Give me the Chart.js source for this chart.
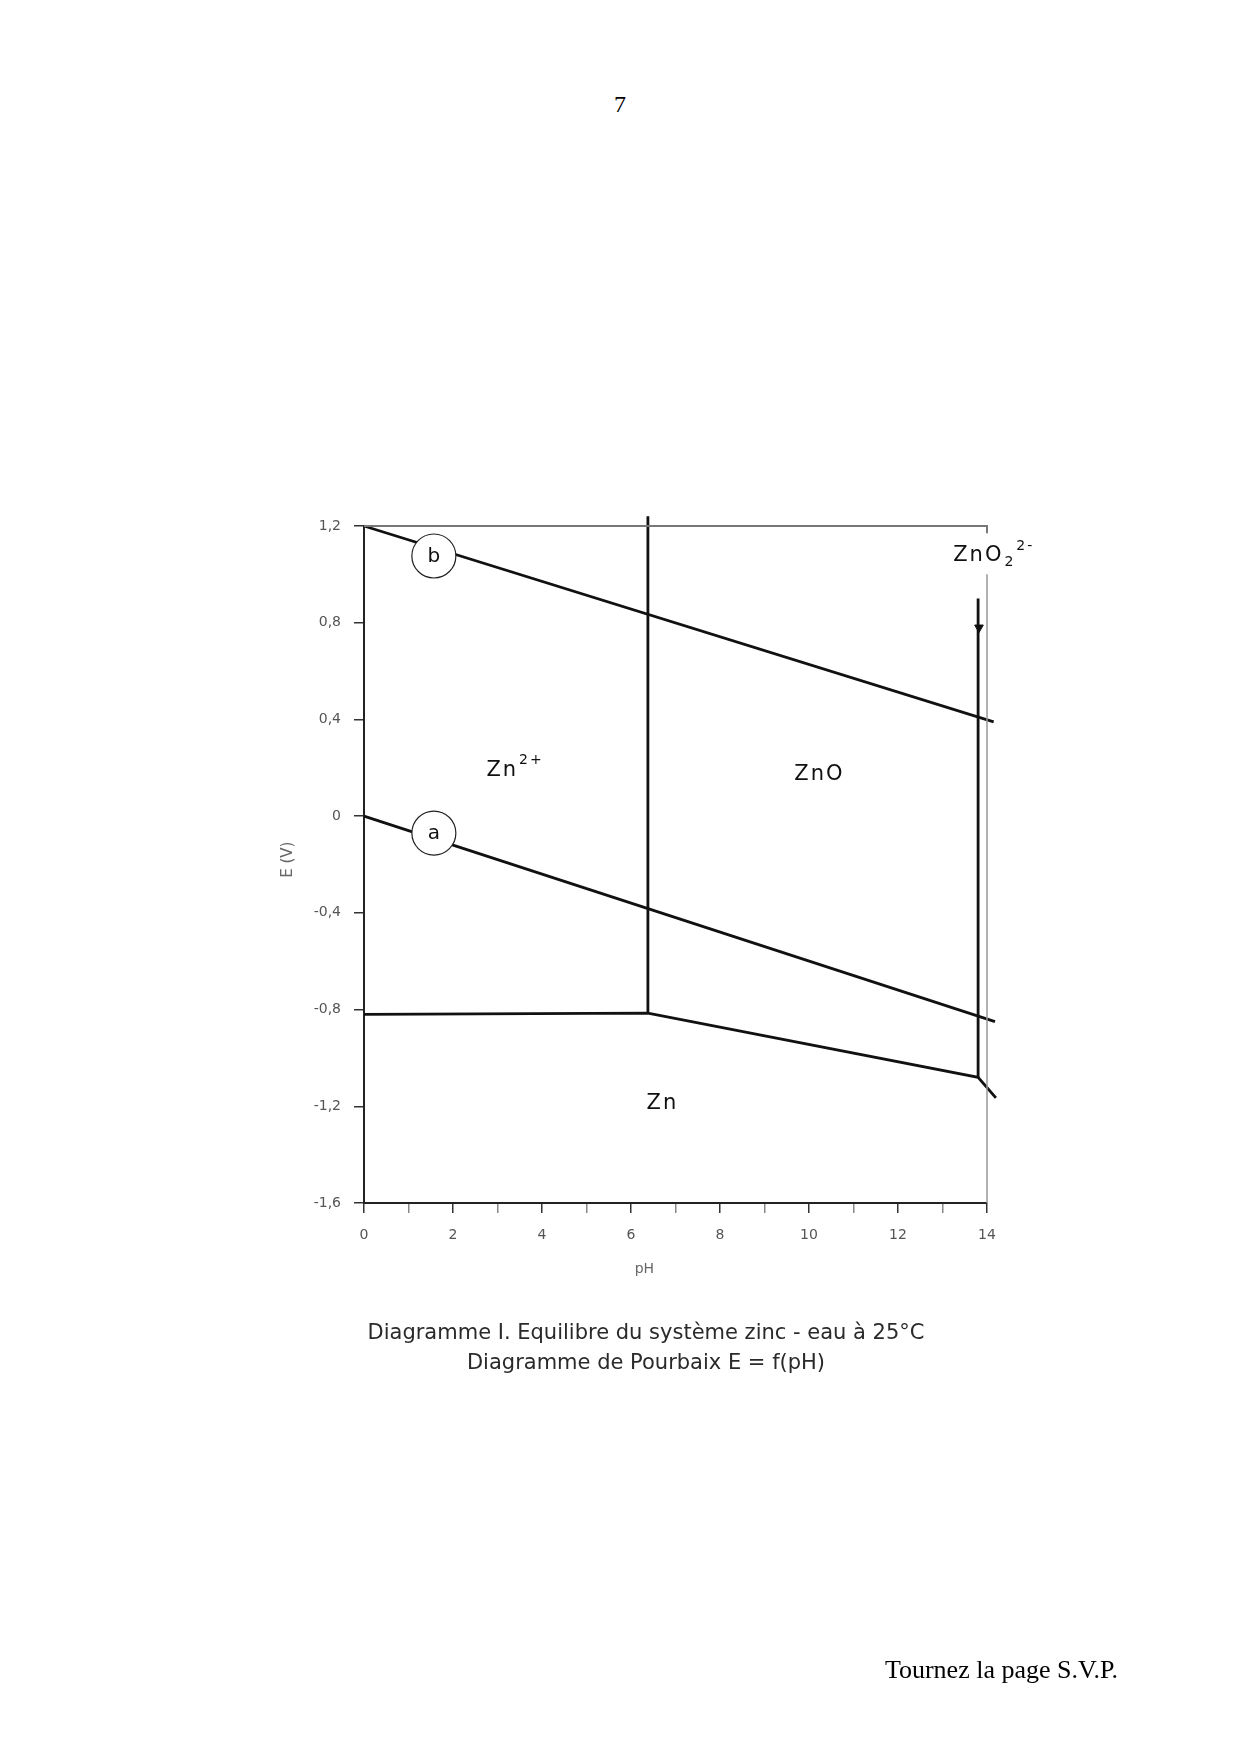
<!DOCTYPE html>
<html>
<head>
<meta charset="utf-8">
<title>Diagramme de Pourbaix - zinc</title>
<script src="https://cdn.jsdelivr.net/npm/chart.js"></script>
<style>
  body { margin: 0; width: 1240px; height: 1754px; background: #fff; position: relative; overflow: hidden; }
  #pourbaix { position: absolute; left: 0; top: 0; }
  .txt { position: absolute; white-space: nowrap; }
  .serif { font-family: "Liberation Serif", "Times New Roman", serif; font-size: 24px; color: #000; }
  .legende { font-family: "DejaVu Sans", sans-serif; font-size: 21px; color: #2a2a2a; left: 0; width: 1292px; text-align: center; }
</style>
</head>
<body>
<div class="txt serif" style="left:0; width:1240px; text-align:center; top:91px;">7</div>
<canvas id="pourbaix" width="1240" height="1754"></canvas>
<div class="txt legende" style="top:1320px;">Diagramme I. Equilibre du système zinc - eau à 25°C</div>
<div class="txt legende" style="top:1350px;">Diagramme de Pourbaix E = f(pH)</div>
<div class="txt serif" style="right:122px; top:1655px; font-size:26px;">Tournez la page S.V.P.</div>

<script>
// droites de l'eau (pH, E en V)
const pHb = [0, 14.15];
const Eb = [1.2, 0.39];
const pHa = [0, 14.18];
const Ea = [0, -0.85];

// frontieres du zinc
const pHZn = [0, 6.38, 13.8, 14.2];
const EZn = [-0.82, -0.815, -1.08, -1.165];
const pHZnO = [6.38, 6.38];
const EZnO = [1.24, -0.815];
const pHZnO2 = [13.8, 13.8];
const EZnO2 = [0.9, -1.08];

// cadre (haut et droite)
const pHcadre = [0, 14, 14];
const Ecadre = [1.2, 1.2, 1.17];
const pHdroit = [14, 14];
const Edroit = [1.0, -1.6];

// petite fleche sur la frontiere ZnO / ZnO2 2-
const pHfleche = [13.82];
const Efleche = [0.78];

// cercles a et b
const cercleNoms = ['b', 'a'];
const pHcercle = [1.57, 1.57];
const Ecercle = [1.076, -0.07];

const xTickLabels = ['0', '', '2', '', '4', '', '6', '', '8', '', '10', '', '12', '', '14'];
const yTickLabels = ['-1,6', '-1,2', '-0,8', '-0,4', '0', '0,4', '0,8', '1,2'];

const pts = (xs, ys) => xs.map((x, i) => ({ x: x, y: ys[i] }));

function trait(data, couleur, largeur) {
  return {
    data: data,
    showLine: true,
    borderColor: couleur,
    borderWidth: largeur,
    pointRadius: 0,
    tension: 0,
    clip: false,
    order: 1
  };
}

// especes : [morceaux de texte], position en (pH, E)
const especes = [
  { parts: [['Zn', 0], ['2+', 1]], x: 2.75, y: 0.19 },
  { parts: [['ZnO', 0]], x: 9.67, y: 0.17 },
  { parts: [['Zn', 0]], x: 6.35, y: -1.19 },
  { parts: [['ZnO', 0], ['2', -1], ['2-', 1]], x: 13.24, y: 1.076 }
];

function ecrireChimie(ctx, parts, px, py) {
  let cx = px;
  parts.forEach(([s, pos]) => {
    if (pos === 0) {
      ctx.font = '21px "DejaVu Sans", sans-serif';
      ctx.fillText(s, cx, py);
    } else {
      ctx.font = '14px "DejaVu Sans", sans-serif';
      ctx.fillText(s, cx + 1, py + (pos > 0 ? -10 : 6));
    }
    cx += ctx.measureText(s).width + (pos === 0 ? 0 : 1);
  });
}

const etiquettes = {
  id: 'etiquettes',
  afterDatasetsDraw(chart) {
    const { ctx, chartArea } = chart;
    const sx = chart.scales.x, sy = chart.scales.y;
    ctx.save();
    ctx.fillStyle = '#111';
    ctx.textBaseline = 'middle';
    ctx.textAlign = 'left';
    ctx.letterSpacing = '2px';
    especes.forEach(e => ecrireChimie(ctx, e.parts, sx.getPixelForValue(e.x), sy.getPixelForValue(e.y)));
    ctx.letterSpacing = '0px';

    // lettres dans les cercles
    ctx.font = '20px "DejaVu Sans", sans-serif';
    ctx.textAlign = 'center';
    cercleNoms.forEach((n, i) => {
      ctx.fillText(n, sx.getPixelForValue(pHcercle[i]), sy.getPixelForValue(Ecercle[i]) + 1);
    });

    // titres des axes
    ctx.fillStyle = '#666';
    ctx.font = '14px "DejaVu Sans", sans-serif';
    ctx.fillText('pH', sx.getPixelForValue(6.3), chartArea.bottom + 66);
    ctx.translate(chartArea.left - 76, sy.getPixelForValue(-0.18));
    ctx.rotate(-Math.PI / 2);
    ctx.font = '15px "DejaVu Sans", sans-serif';
    ctx.fillText('E (V)', 0, 0);
    ctx.restore();
  }
};

const tickFont = { family: '"DejaVu Sans", sans-serif', size: 14 };
const couleurTick = c => (c.index % 2 === 1 ? '#888' : '#333');

new Chart(document.getElementById('pourbaix'), {
  type: 'scatter',
  data: {
    datasets: [
      {
        data: pts(pHcercle, Ecercle),
        pointRadius: 22,
        pointHoverRadius: 22,
        pointBackgroundColor: '#fff',
        pointBorderColor: '#222',
        pointBorderWidth: 1.2,
        order: 0
      },
      {
        data: pts(pHfleche, Efleche),
        pointStyle: 'triangle',
        rotation: 180,
        pointRadius: 5,
        pointBackgroundColor: '#111',
        pointBorderColor: '#111',
        order: 0
      },
      trait(pts(pHcadre, Ecadre), '#777', 2),
      trait(pts(pHdroit, Edroit), '#999', 1.5),
      trait(pts(pHb, Eb), '#111', 2.8),
      trait(pts(pHa, Ea), '#111', 2.8),
      trait(pts(pHZn, EZn), '#111', 2.8),
      trait(pts(pHZnO, EZnO), '#111', 2.8),
      trait(pts(pHZnO2, EZnO2), '#111', 2.8)
    ]
  },
  options: {
    responsive: false,
    animation: false,
    devicePixelRatio: 1,
    layout: { padding: { left: 0, right: 253, top: 526, bottom: 491 } },
    plugins: { legend: { display: false }, tooltip: { enabled: false } },
    scales: {
      x: {
        type: 'linear',
        min: 0,
        max: 14,
        afterFit: s => { s.height = 60; },
        ticks: {
          stepSize: 1,
          padding: 14,
          color: '#555',
          font: tickFont,
          callback: (v, i) => xTickLabels[i]
        },
        grid: { drawOnChartArea: false, drawTicks: true, tickLength: 10, color: couleurTick, lineWidth: 1.5 },
        border: { display: true, color: '#222', width: 2 }
      },
      y: {
        type: 'linear',
        min: -1.6,
        max: 1.2,
        afterFit: s => { s.width = 364; },
        ticks: {
          stepSize: 0.4,
          padding: 13,
          color: '#555',
          font: tickFont,
          callback: (v, i) => yTickLabels[i]
        },
        grid: { drawOnChartArea: false, drawTicks: true, tickLength: 10, color: '#333', lineWidth: 1.5 },
        border: { display: true, color: '#222', width: 2 }
      }
    }
  },
  plugins: [etiquettes]
});
</script>
</body>
</html>
